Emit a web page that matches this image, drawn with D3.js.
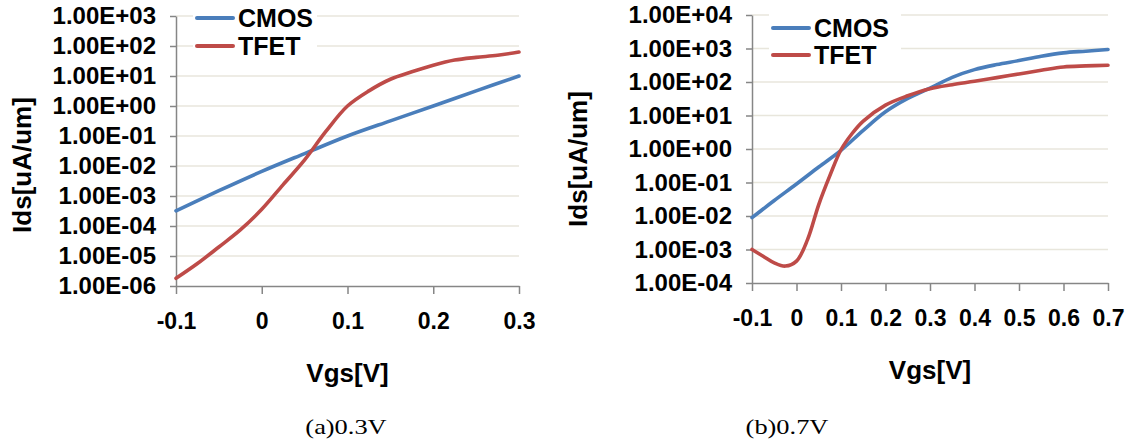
<!doctype html>
<html lang='en'>
  <head>
    <meta charset="utf-8">
    <script src="https://d3js.org/d3.v7.min.js"></script>
    <title>Ids vs Vgs</title>
  <style>
  body{
    margin: 0;
    background: white;
  }
  svg text {
    font-family: "Liberation Sans", Arial, sans-serif;
    font-weight: bold;
    fill: black;
  }
  svg text.caption {
    font-family: "Liberation Serif", "Times New Roman", serif;
    font-weight: normal;
  }
  </style>
  </head>
  <body>
    <div id='chart'></div>
    <script>
    // (a) 0.3V
    const vgsA_cmos = [-0.1, -0.05, 0, 0.05, 0.1, 0.15, 0.2, 0.25, 0.3];
    const idsA_cmos = [3.2e-4, 1.5e-3, 6.6e-3, 2.6e-2, 0.1, 0.32, 1.0, 3.2, 10];
    const vgsA_tfet = [-0.1, -0.075, -0.05, -0.025, 0, 0.025, 0.05, 0.075, 0.1, 0.125, 0.15, 0.175, 0.2, 0.225, 0.25, 0.275, 0.3];
    const idsA_tfet = [1.8e-6, 5.6e-6, 2.0e-5, 7.4e-5, 3.6e-4, 2.4e-3, 1.6e-2, 0.145, 1.0, 3.2, 7.8, 13.8, 22.9, 33.9, 41.7, 49, 63];

    // (b) 0.7V
    const vgsB_cmos = [-0.1, -0.05, 0, 0.05, 0.1, 0.15, 0.2, 0.25, 0.3, 0.35, 0.4, 0.45, 0.5, 0.55, 0.6, 0.65, 0.7];
    const idsB_cmos = [8.9e-3, 2.9e-2, 9.0e-2, 0.29, 0.91, 3.6, 12.9, 32.4, 66, 138, 234, 331, 437, 589, 741, 832, 933];
    const vgsB_tfet = [-0.1, -0.075, -0.05, -0.025, 0, 0.025, 0.05, 0.075, 0.1, 0.125, 0.15, 0.2, 0.25, 0.3, 0.35, 0.4, 0.45, 0.5, 0.55, 0.6, 0.65, 0.7];
    const idsB_tfet = [1e-3, 6.3e-4, 4.0e-4, 3.2e-4, 4.5e-4, 2.0e-3, 2.2e-2, 0.16, 0.95, 2.9, 6.8, 20.4, 38.9, 63, 83.2, 105, 135, 174, 224, 282, 302, 316];

    const seriesNames = ['CMOS', 'TFET'];
    const colors = ['#4a7ebb', '#be4b48'];
    const xTicksA = [-0.1, 0, 0.1, 0.2, 0.3];
    const xTicksB = [-0.1, 0, 0.1, 0.2, 0.3, 0.4, 0.5, 0.6, 0.7];
    const yTicksA = [1e-6, 1e-5, 1e-4, 1e-3, 1e-2, 1e-1, 1e0, 1e1, 1e2, 1e3];
    const yTicksB = [1e-4, 1e-3, 1e-2, 1e-1, 1e0, 1e1, 1e2, 1e3, 1e4];
    const xTitle = 'Vgs[V]';
    const yTitle = 'Ids[uA/um]';

    const wsvg = 1133;
    const hsvg = 444;

    const svg = d3.select('#chart')
                  .append('svg')
                  .attr('width', wsvg)
                  .attr('height', hsvg);

    function sciFormat(v) {
      const e = Math.round(Math.log10(v));
      return '1.00E' + (e < 0 ? '-' : '+') + String(Math.abs(e)).padStart(2, '0');
    }

    function drawPanel(p) {
      const xScale = d3.scaleLinear().domain(d3.extent(p.xTicks)).range([p.left, p.right]);
      const yScale = d3.scaleLog().domain(d3.extent(p.yTicks)).range([p.bottom, p.top]);

      // gridlines
      svg.append('g')
         .selectAll('line')
         .data(p.yTicks.slice(1))
         .enter()
         .append('line')
         .attr('x1', p.left)
         .attr('x2', p.right)
         .attr('y1', d => yScale(d))
         .attr('y2', d => yScale(d))
         .attr('stroke', '#e8e6dc')
         .attr('stroke-width', 1.3);

      const yAxis = d3.axisLeft(yScale)
                      .tickValues(p.yTicks)
                      .tickFormat(sciFormat)
                      .tickSizeInner(6)
                      .tickSizeOuter(0)
                      .tickPadding(14);
      const xAxis = d3.axisBottom(xScale)
                      .tickValues(p.xTicks)
                      .tickFormat(d => d === 0 ? '0' : d.toFixed(1))
                      .tickSizeInner(8)
                      .tickSizeOuter(0)
                      .tickPadding(19);

      const gy = svg.append('g')
                    .attr('transform', 'translate(' + p.left + ',0)')
                    .call(yAxis);
      const gx = svg.append('g')
                    .attr('transform', 'translate(0,' + p.bottom + ')')
                    .call(xAxis);

      [gx, gy].forEach(g => {
        g.attr('font-family', null).attr('font-size', null);
        g.select('.domain').attr('stroke', '#868686').attr('stroke-width', 1.5);
        g.selectAll('.tick line').attr('stroke', '#868686').attr('stroke-width', 1.5);
      });
      gy.selectAll('.tick text').style('font-size', '24px');
      gx.selectAll('.tick text').style('font-size', '23px');

      // legend box hides the gridlines behind it
      svg.append('rect')
         .attr('x', p.legend.x - 4)
         .attr('y', p.legend.y - 14)
         .attr('width', p.legend.w)
         .attr('height', 58)
         .attr('fill', 'white');

      const line = d3.line()
                     .x(d => xScale(d[0]))
                     .y(d => yScale(d[1]))
                     .curve(d3.curveCatmullRom.alpha(0.5));

      p.series.forEach((s, i) => {
        svg.append('path')
           .datum(d3.zip(s.x, s.y))
           .attr('fill', 'none')
           .attr('stroke', colors[i])
           .attr('stroke-width', 3.6)
           .attr('stroke-linecap', 'round')
           .attr('d', line);

        const ly = p.legend.y + i * p.legend.gap;
        svg.append('line')
           .attr('x1', p.legend.x)
           .attr('x2', p.legend.x + 36)
           .attr('y1', ly)
           .attr('y2', ly)
           .attr('stroke', colors[i])
           .attr('stroke-width', 4)
           .attr('stroke-linecap', 'round');
        svg.append('text')
           .attr('x', p.legend.x + 41)
           .attr('y', ly)
           .attr('dy', '0.36em')
           .style('font-size', '25px')
           .text(seriesNames[i]);
      });

      svg.append('text')
         .attr('x', (p.left + p.right) / 2)
         .attr('y', p.xTitleY)
         .attr('text-anchor', 'middle')
         .attr('dy', '0.36em')
         .style('font-size', '26px')
         .text(xTitle);

      svg.append('text')
         .attr('transform', 'translate(' + p.yTitleX + ',' + p.yTitleY + ') rotate(-90)')
         .attr('text-anchor', 'middle')
         .attr('dy', '0.36em')
         .style('font-size', '26px')
         .text(yTitle);

      // caption is set in a slightly widened serif
      svg.append('text')
         .attr('class', 'caption')
         .attr('transform', 'translate(' + p.captionX + ',434) scale(1.2,1)')
         .attr('text-anchor', 'middle')
         .style('font-size', '22px')
         .text(p.caption);
    }

    drawPanel({
      left: 176, right: 519, top: 16, bottom: 286,
      xTicks: xTicksA, yTicks: yTicksA,
      series: [{x: vgsA_cmos, y: idsA_cmos}, {x: vgsA_tfet, y: idsA_tfet}],
      legend: {x: 197, y: 18, gap: 28, w: 124},
      xTitleY: 373, yTitleX: 22, yTitleY: 165,
      captionX: 346, caption: '(a)0.3V'
    });

    drawPanel({
      left: 752, right: 1108, top: 15, bottom: 283,
      xTicks: xTicksB, yTicks: yTicksB,
      series: [{x: vgsB_cmos, y: idsB_cmos}, {x: vgsB_tfet, y: idsB_tfet}],
      legend: {x: 773, y: 28, gap: 27, w: 132},
      xTitleY: 370, yTitleX: 578, yTitleY: 159,
      captionX: 787, caption: '(b)0.7V'
    });
    </script>
  </body>
</html>
